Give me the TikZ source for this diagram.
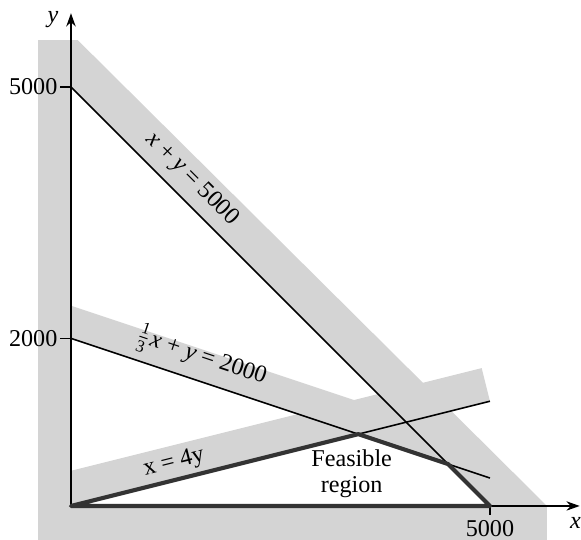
\documentclass[tikz,border=0pt]{standalone}
\usepackage{amsmath}
\usepackage{fontspec}
\setmainfont{Liberation Serif}
\usetikzlibrary{arrows.meta}

\tikzset{
  band/.style={fill=black!17, draw=none},
  limitline/.style={line width=0.55pt, black},
  boundary/.style={line width=1.4pt, black!80, line join=round},
  axis/.style={line width=0.45pt, -{Stealth[length=4.5pt,width=3.2pt]}},
  lbl/.style={font=\fontsize{8.2}{8.8}\selectfont, inner sep=1pt}
}

\begin{document}
\begin{tikzpicture}[scale=1]
        \useasboundingbox (-0.847,-0.406) rectangle (6.086,6.038);
        %% corner points, 1 unit = 1000
        \coordinate (O) at (0,0);
        \coordinate (A) at (0,5);
        \coordinate (B) at (5,0);
        \coordinate (C) at (0,2);
        \coordinate (D) at (5,0.3333);
        \coordinate (E) at (5,1.25);
        \coordinate (P) at (3.4286,0.8571);
        \coordinate (Q) at (4.5,0.5);
        %% shaded sides
        \fill[band] (-0.394,-0.406) rectangle (0,5.56);
        \fill[band] (-0.394,-0.406) rectangle (5.68,0);
        \fill[band] (A) -- (0,5.56) -- (0.08,5.56) -- (5.68,0) -- (B) -- cycle;
        \fill[band] (C) -- (4.8,0.4) -- (4.8,0.79) -- (0,2.39) -- cycle;
        \fill[band] (O) -- (E) -- (4.901,1.645) -- (0,0.42) -- cycle;
        %% axes
        \draw[axis] (O) -- (0,5.88);
        \draw[axis] (O) -- (6.07,0);
        \draw[line width=0.45pt] (A) -- (-0.13,5);
        \draw[line width=0.45pt] (C) -- (-0.13,2);
        \draw[line width=0.45pt] (B) -- (5,-0.11);
        \node[lbl] (ylab) at (-0.215,5.80) {\textit{y}};
        \node[lbl] (xlab) at (6.02,-0.20) {\textit{x}};
        \node[lbl, anchor=east] (y5) at (-0.12,5) {5000};
        \node[lbl, anchor=east] (y2) at (-0.12,2) {2000};
        \node[lbl] (x5) at (5,-0.27) {5000};
        %% constraint lines
        \draw[limitline] (A) -- (B);
        \draw[limitline] (C) -- (D);
        \draw[limitline] (O) -- (E);
        \draw[boundary] (O) -- (P) -- (Q) -- (B) -- cycle;
        %% labels
        \node[lbl, rotate=-45] (l1) at (1.444,3.90) {\textit{x} + \textit{y} = 5000};
        \node[lbl, rotate=-18.43] (l2) at (1.55,1.78) {$\frac{\text{1}}{\text{3}}$\textit{x} + \textit{y} = 2000};
        \node[lbl, rotate=14.04] (l3) at (1.23,0.51) {x = 4y};
        \node[lbl, align=center] (feas) at (3.35,0.38) {Feasible\\region};
      \end{tikzpicture}
\end{document}
